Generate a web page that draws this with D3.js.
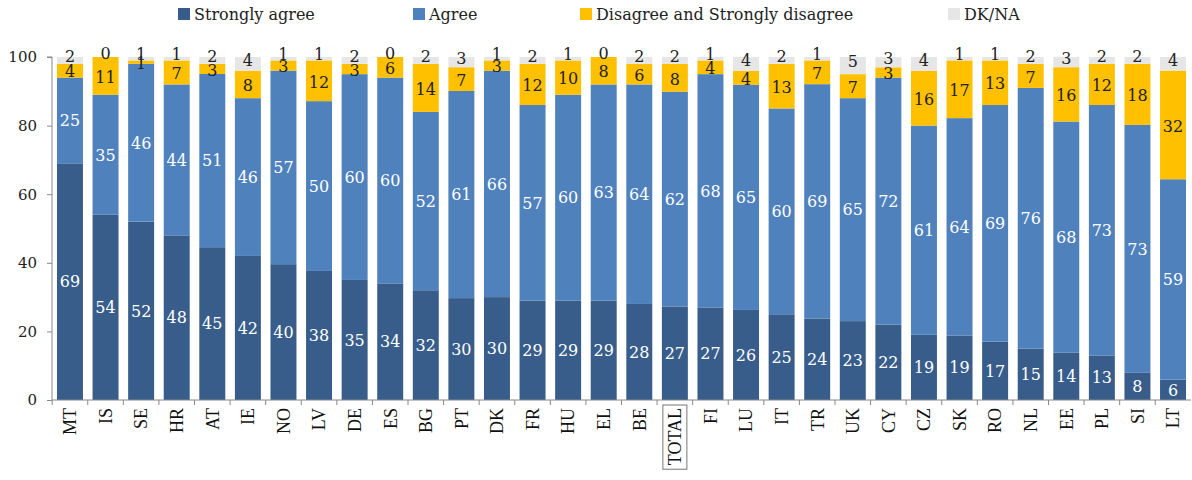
<!DOCTYPE html>
<html>
<head>
<meta charset="utf-8">
<script src="https://cdn.jsdelivr.net/npm/d3@7"></script>
<style>
  body { margin: 0; background: #fff; }
  svg text { font-family: "DejaVu Serif", Georgia, serif; }
</style>
</head>
<body>
<div id="chart"></div>
<script>
var countries = ["MT","IS","SE","HR","AT","IE","NO","LV","DE","ES","BG","PT","DK","FR","HU","EL","BE","TOTAL","FI","LU","IT","TR","UK","CY","CZ","SK","RO","NL","EE","PL","SI","LT"];
var stronglyAgree = [69,54,52,48,45,42,40,38,35,34,32,30,30,29,29,29,28,27,27,26,25,24,23,22,19,19,17,15,14,13,8,6];
var agree         = [25,35,46,44,51,46,57,50,60,60,52,61,66,57,60,63,64,62,68,65,60,69,65,72,61,64,69,76,68,73,73,59];
var disagree      = [4,11,1,7,3,8,3,12,3,6,14,7,3,12,10,8,6,8,4,4,13,7,7,3,16,17,13,7,16,12,18,32];
var dkna          = [2,0,1,1,2,4,1,1,2,0,2,3,1,2,1,0,2,2,1,4,2,1,5,3,4,1,1,2,3,2,2,4];
var seriesNames = ["Strongly agree","Agree","Disagree and Strongly disagree","DK/NA"];
var yTicks = [0,20,40,60,80,100];

var colors = ["#385D8A","#4F81BD","#FFC000","#E6E6E6"];
var labelColors = ["#fff","#fff","#222","#222"];
// top labels (DK/NA) sit a little higher, near the top edge of the bar
var labelShift = [0, 0, 1, -4];

var width = 1192, height = 480;
var margin = {top:57, right:1, bottom:80, left:52};

var data = countries.map(function(c, i) {
  return {country: c, s0: stronglyAgree[i], s1: agree[i], s2: disagree[i], s3: dkna[i]};
});
var keys = ["s0","s1","s2","s3"];

// stack, normalised to 100 like the original bars
var stack = d3.stack().keys(keys).offset(d3.stackOffsetExpand);
var series = stack(data);

var svg = d3.select("#chart").append("svg")
  .attr("width", width)
  .attr("height", height);

var x = d3.scaleBand()
  .domain(countries)
  .range([margin.left, width - margin.right])
  .paddingInner(0.27)
  .paddingOuter(0.14);

var y = d3.scaleLinear()
  .domain([0, 1])
  .range([height - margin.bottom, margin.top]);

// bars
var groups = svg.selectAll(".series")
  .data(series)
  .enter().append("g")
  .attr("class", "series")
  .attr("fill", function(d, i) { return colors[i]; });

groups.selectAll("rect")
  .data(function(d) { return d; })
  .enter().append("rect")
  .attr("x", function(d) { return x(d.data.country); })
  .attr("y", function(d) { return y(d[1]); })
  .attr("width", x.bandwidth())
  .attr("height", function(d) { return y(d[0]) - y(d[1]); });

// segment labels
series.forEach(function(s, si) {
  svg.append("g")
    .selectAll("text")
    .data(s)
    .enter().append("text")
    .attr("x", function(d) { return x(d.data.country) + x.bandwidth() / 2; })
    .attr("y", function(d) { return (y(d[0]) + y(d[1])) / 2 + labelShift[si]; })
    .attr("dy", "0.36em")
    .attr("text-anchor", "middle")
    .attr("fill", labelColors[si])
    .style("font-size", "16px")
    .text(function(d) { return d.data[s.key]; });
});

// y axis
var yAxis = d3.axisLeft(y)
  .tickValues(yTicks.map(function(v) { return v / 100; }))
  .tickFormat(function(d) { return Math.round(d * 100); })
  .tickSize(5)
  .tickPadding(10);

var gy = svg.append("g")
  .attr("transform", "translate(" + margin.left + ",0)")
  .call(yAxis);
gy.select(".domain").attr("stroke", "#888").attr("d", "M-5," + y(1) + "H0V" + y(0));
gy.selectAll(".tick line").attr("stroke", "#888");
gy.selectAll(".tick text")
  .style("font-family", "'DejaVu Serif', serif")
  .style("font-size", "15px")
  .attr("fill", "#222");

// x axis
var xAxis = d3.axisBottom(x).tickSize(0).tickFormat("");
var gx = svg.append("g")
  .attr("transform", "translate(0," + y(0) + ")")
  .call(xAxis);
gx.select(".domain").attr("stroke", "#888").attr("d", "M" + margin.left + ",0H" + (width - margin.right));

// small separator ticks between categories
gx.selectAll(".sep")
  .data(countries)
  .enter().append("line")
  .attr("x1", function(d) { return x(d) - x.step() * x.paddingInner() / 2; })
  .attr("x2", function(d) { return x(d) - x.step() * x.paddingInner() / 2; })
  .attr("y1", 0)
  .attr("y2", 5)
  .attr("stroke", "#888");

var xl = svg.append("g").selectAll("text")
  .data(countries)
  .enter().append("text")
  .attr("transform", function(d) {
    return "translate(" + (x(d) + x.bandwidth() / 2) + "," + (y(0) + 8) + ") rotate(-90)";
  })
  .attr("dy", "0.35em")
  .attr("text-anchor", "end")
  .attr("fill", "#111")
  .style("font-family", "'Liberation Serif', 'Times New Roman', serif")
  .style("font-size", "18px")
  .text(function(d) { return d; });

// box around TOTAL
xl.filter(function(d) { return d === "TOTAL"; }).each(function(d) {
  var b = this.getBBox();
  var cx = x(d) + x.bandwidth() / 2;
  var top = y(0) + 5;
  svg.append("rect")
    .attr("x", cx - b.height / 2 - 2)
    .attr("y", top)
    .attr("width", b.height + 4)
    .attr("height", b.width + 7)
    .attr("fill", "none")
    .attr("stroke", "#777");
});

// legend
var legendX = [178, 413, 580, 948];
var legend = svg.append("g").selectAll("g")
  .data(seriesNames)
  .enter().append("g")
  .attr("transform", function(d, i) { return "translate(" + legendX[i] + ",6)"; });
legend.append("rect")
  .attr("width", 12)
  .attr("height", 12)
  .attr("y", 2)
  .attr("fill", function(d, i) { return colors[i]; });
legend.append("text")
  .attr("x", 16)
  .attr("y", 8)
  .attr("dy", "0.35em")
  .attr("fill", "#222")
  .style("font-size", "16px")
  .text(function(d) { return d; });
</script>
</body>
</html>
